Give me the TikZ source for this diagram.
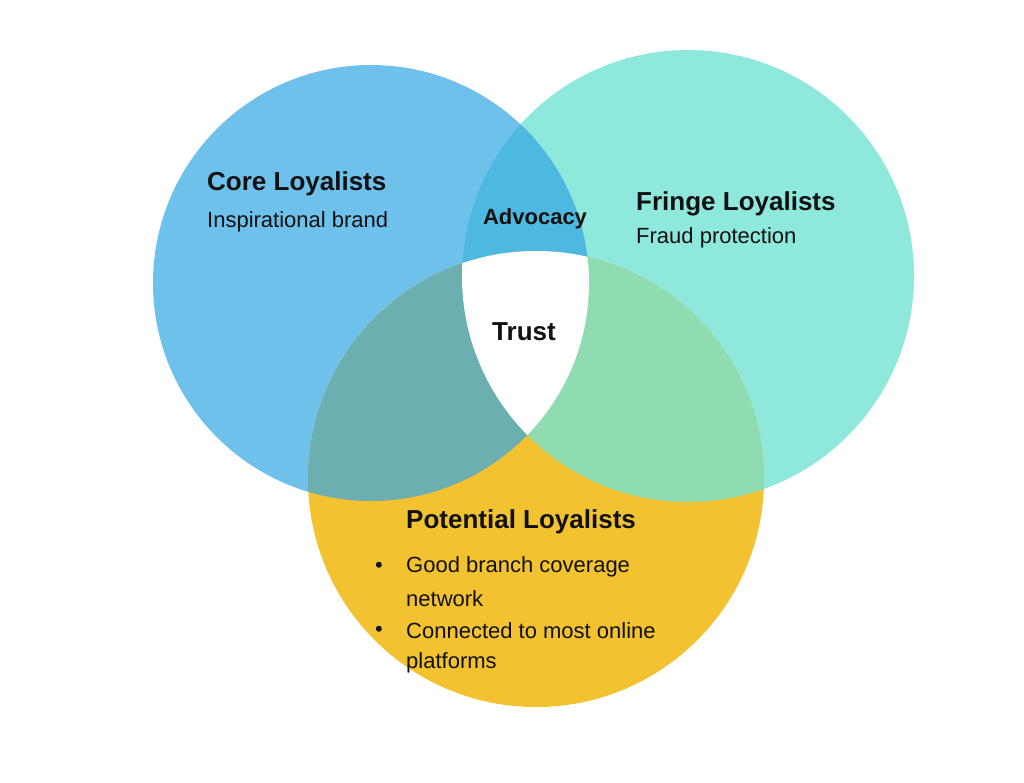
\documentclass[tikz,border=0pt]{standalone}
\usepackage{fontspec}
\setmainfont{Liberation Sans}
\definecolor{cblue}{HTML}{6EC1EB}
\definecolor{cteal}{HTML}{8EE8DC}
\definecolor{cyel}{HTML}{F2C230}
\definecolor{cbt}{HTML}{4DB8E0}
\definecolor{cby}{HTML}{6BAFB0}
\definecolor{cty}{HTML}{8EDCB0}
\definecolor{ctxt}{HTML}{111111}
\begin{document}
\begin{tikzpicture}[x=1pt,y=-1pt,
  ttl/.style={font=\fontsize{26}{30}\selectfont\bfseries,text=ctxt,inner sep=0pt},
  bod/.style={font=\fontsize{22}{26}\selectfont,text=ctxt,inner sep=0pt}]
\useasboundingbox (0,0) rectangle (1024,782);
\fill[white] (0,0) rectangle (1024,782);
\def\A{(371,283) circle (218)}
\def\B{(688,276) circle (226)}
\def\C{(536,479) circle (228)}
\fill[cblue] \A;
\fill[cteal] \B;
\fill[cyel] \C;
\begin{scope}\clip \A; \fill[cbt] \B; \end{scope}
\begin{scope}\clip \A; \fill[cby] \C; \end{scope}
\begin{scope}\clip \B; \fill[cty] \C; \end{scope}
\begin{scope}\clip \A; \clip \B; \fill[white] \C; \end{scope}
\node[ttl,anchor=west] (core) at (207,184) {Core Loyalists};
\node[bod,anchor=west] (coreb) at (207,222) {Inspirational brand};
\node[ttl,anchor=west] (fr) at (636,204) {Fringe Loyalists};
\node[bod,anchor=west] (frb) at (636,238) {Fraud protection};
\node[font=\fontsize{22}{26}\selectfont\bfseries,text=ctxt,inner sep=0pt] (adv) at (535,219) {Advocacy};
\node[ttl] (tr) at (524,332) {Trust};
\node[ttl,anchor=west] (pot) at (406,522) {Potential Loyalists};
\node[bod,anchor=west] (b1) at (406,567) {Good branch coverage};
\node[bod,anchor=west] (b1b) at (406,599) {network};
\node[bod,anchor=west] (b2) at (406,631) {Connected to most online};
\node[bod,anchor=west] (b2b) at (406,663) {platforms};
\node[bod] (d1) at (379,567) {•};
\node[bod] (d2) at (379,631) {•};
\end{tikzpicture}
\end{document}
